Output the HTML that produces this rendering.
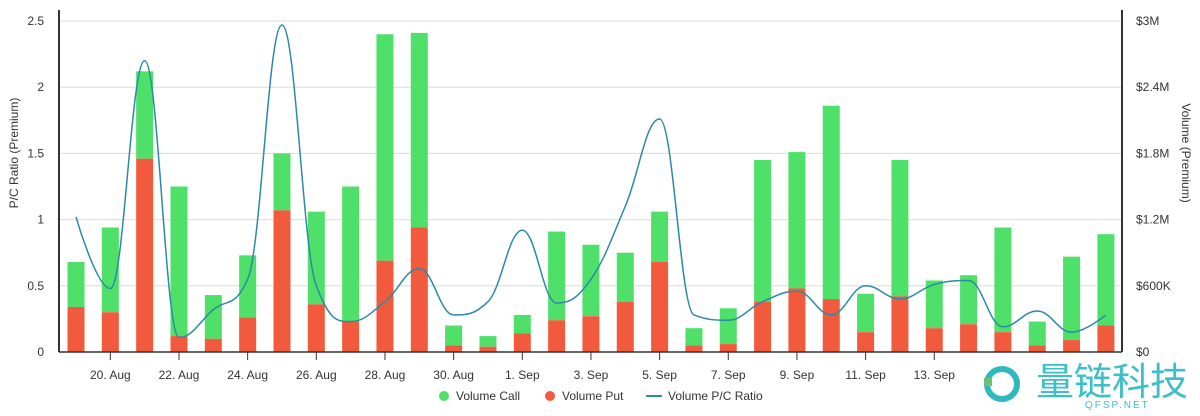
<!DOCTYPE html>
<html><head><meta charset="utf-8"><style>
body{margin:0;background:#fff;font-family:"Liberation Sans","Noto Sans CJK SC",sans-serif;}
svg text{font-family:"Liberation Sans","Noto Sans CJK SC",sans-serif;}
</style></head><body>
<svg id="chart" width="1200" height="411" viewBox="0 0 1200 411" xmlns="http://www.w3.org/2000/svg">
<g id="grid"></g>
<g id="bars"></g>
<g id="line"></g>
<g id="axes"></g>
<text transform="translate(18,153) rotate(-90)" text-anchor="middle" font-size="12" fill="#333">P/C Ratio (Premium)</text>
<text transform="translate(1182,153) rotate(90)" text-anchor="middle" font-size="12" fill="#333">Volume (Premium)</text>
<g font-size="12" fill="#333">
 <g><circle cx="444" cy="396" r="5" fill="#4fe06a"/><text x="456" y="400">Volume Call</text></g>
 <g><circle cx="550" cy="396" r="5" fill="#f25a3e"/><text x="562" y="400">Volume Put</text></g>
 <g><line x1="646" y1="396" x2="662" y2="396" stroke="#2b8aa8" stroke-width="2"/><text x="668" y="400">Volume P/C Ratio</text></g>
</g>
<g>
 <circle cx="1002" cy="384" r="15" fill="none" stroke="#2fb8c0" stroke-width="6"/>
 <rect x="984" y="378" width="8" height="8" fill="#6cc07a"/>
 <text x="1036" y="395" font-size="38" fill="#3bbfc8">量链科技</text>
 <text x="1085" y="408" font-size="10" fill="#3bbfc8" letter-spacing="2">QFSP.NET</text>
</g>
</svg>
<script>
const categories=["19 Aug","20 Aug","21 Aug","22 Aug","23 Aug","24 Aug","25 Aug","26 Aug","27 Aug","28 Aug","29 Aug","30 Aug","31 Aug","1 Sep","2 Sep","3 Sep","4 Sep","5 Sep","6 Sep","7 Sep","8 Sep","9 Sep","10 Sep","11 Sep","12 Sep","13 Sep","14 Sep","15 Sep","16 Sep","17 Sep","18 Sep"];
// volumes in $K
const putVolume=[408,360,1752,144,120,312,1284,432,276,828,1128,60,48,168,288,324,456,816,60,72,456,576,480,180,504,216,252,180,60,108,240];
const callVolume=[408,768,792,1356,396,564,516,840,1224,2052,1764,180,96,168,804,648,444,456,156,324,1284,1236,1752,348,1236,432,444,948,216,756,828];
const ratioValues=[1.02,0.48,2.2,0.11,0.32,0.55,2.47,0.5,0.23,0.38,0.63,0.28,0.38,0.92,0.37,0.55,1.1,1.76,0.28,0.24,0.38,0.46,0.28,0.5,0.4,0.51,0.54,0.19,0.31,0.15,0.28];
const leftTicks=[0,0.5,1,1.5,2,2.5];
const leftTickLabels=["0","0.5","1","1.5","2","2.5"];
const rightTicks=[0,600,1200,1800,2400,3000];
const rightTickLabels=["$0","$600K","$1.2M","$1.8M","$2.4M","$3M"];
const xTickIdx=[1,3,5,7,9,11,13,15,17,19,21,23,25];
const xTickLabels=["20. Aug","22. Aug","24. Aug","26. Aug","28. Aug","30. Aug","1. Sep","3. Sep","5. Sep","7. Sep","9. Sep","11. Sep","13. Sep"];

const NS="http://www.w3.org/2000/svg";
const X0=59,X1=1122,Y0=352,Y1=21;
const xPos=i=>76+i*34.33;
const yL=v=>Y0-(v/2.5)*(Y0-Y1);
const yR=v=>Y0-(v/3000)*(Y0-Y1);
function mk(tag,attrs,parent){const e=document.createElementNS(NS,tag);for(const k in attrs)e.setAttribute(k,attrs[k]);parent.appendChild(e);return e;}
const grid=document.getElementById('grid'),bars=document.getElementById('bars'),line=document.getElementById('line'),axes=document.getElementById('axes');
leftTicks.forEach((t,i)=>{
  const y=yL(t);
  if(t>0){const g=mk('line',{x1:X0,x2:X1,y1:y,y2:y,stroke:'#dcdcdc','stroke-width':1},grid);
  
  }
  const tx=mk('text',{x:44,y:y+4,'text-anchor':'end','font-size':12,fill:'#333'},axes);tx.textContent=leftTickLabels[i];
  
  
});
rightTicks.forEach((t,i)=>{
  const tx=mk('text',{x:1136,y:yR(t)+4,'font-size':12,fill:'#333'},axes);tx.textContent=rightTickLabels[i];
  
  
});
categories.forEach((c,i)=>{
  const x=xPos(i),w=17;
  const p=putVolume[i],cv=callVolume[i];
  const r1=mk('rect',{x:x-w/2,y:yR(p+cv),width:w,height:yR(p)-yR(p+cv),fill:'#4fe06a'},bars);
  
  
  const r2=mk('rect',{x:x-w/2,y:yR(p),width:w,height:Y0-yR(p),fill:'#f25a3e'},bars);
  
  
});
// Highcharts-style spline
const pts=ratioValues.map((v,i)=>[xPos(i),yL(v)]);
const n=pts.length,sm=1.5,den=sm+1;
const L=[],R=[];
for(let i=0;i<n;i++){
  const [x,y]=pts[i];
  if(i===0||i===n-1){L[i]=[x,y];R[i]=[x,y];continue;}
  const [px,py]=pts[i-1],[nx,ny]=pts[i+1];
  let lx=(sm*x+px)/den,ly=(sm*y+py)/den,rx=(sm*x+nx)/den,ry=(sm*y+ny)/den;
  const jump=((ry-ly)*(rx-x))/(rx-lx)+y-ry;
  ly+=jump;ry+=jump;
  if(ly>py&&ly>y){ly=Math.max(py,y);ry=2*y-ly;}else if(ly<py&&ly<y){ly=Math.min(py,y);ry=2*y-ly;}
  if(ry>ny&&ry>y){ry=Math.max(ny,y);ly=2*y-ry;}else if(ry<ny&&ry<y){ry=Math.min(ny,y);ly=2*y-ry;}
  L[i]=[lx,ly];R[i]=[rx,ry];
}
let d="M"+pts[0][0]+","+pts[0][1];
for(let i=1;i<n;i++){
  d+=` C${R[i-1][0]},${R[i-1][1]} ${L[i][0]},${L[i][1]} ${pts[i][0]},${pts[i][1]}`;
}
const pl=mk('path',{d:d,fill:'none',stroke:'#2b8aa8','stroke-width':1.5},line);


const la=mk('line',{x1:X0,x2:X0,y1:10,y2:Y0,stroke:'#333','stroke-width':2},axes);


const ra=mk('line',{x1:X1,x2:X1,y1:10,y2:Y0,stroke:'#333','stroke-width':2},axes);


const xa=mk('line',{x1:X0,x2:X1,y1:Y0,y2:Y0,stroke:'#333','stroke-width':1.5},axes);


xTickIdx.forEach((idx,i)=>{
  const x=xPos(idx);
  const tk=mk('line',{x1:x,x2:x,y1:Y0,y2:Y0+8,stroke:'#333','stroke-width':1},axes);
  
  
  const tx=mk('text',{x:x,y:Y0+27,'text-anchor':'middle','font-size':12,fill:'#333'},axes);tx.textContent=xTickLabels[i];
  
  
});
</script>
</body></html>
